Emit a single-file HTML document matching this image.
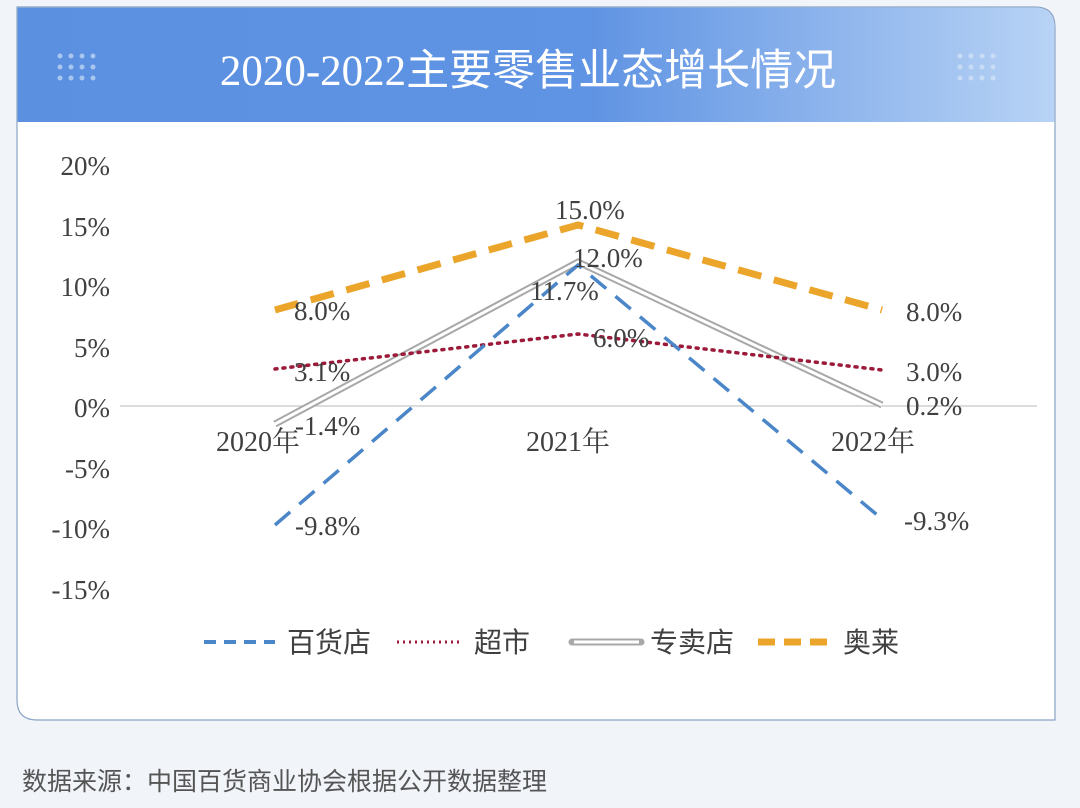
<!DOCTYPE html>
<html><head><meta charset="utf-8"><style>
body{margin:0;width:1080px;height:803px;background:#f1f5fa;overflow:hidden;font-family:"Liberation Sans","Noto Sans CJK SC",sans-serif}
</style></head><body>
<svg width="1080" height="803" xmlns="http://www.w3.org/2000/svg">
<defs>
<linearGradient id="g" x1="0" x2="1" y1="0" y2="0">
<stop offset="0" stop-color="#5b8fe0"/><stop offset="0.55" stop-color="#5f93e3"/><stop offset="1" stop-color="#b8d3f5"/></linearGradient>
</defs>
<path d="M17,7 H1035 Q1055,7 1055,27 V720 H37 Q17,720 17,700 Z" fill="#fff" stroke="#8aa3c4" stroke-width="1.2"/>
<path d="M17.6,7.6 H1035 Q1054.4,7.6 1054.4,27 V122 H17.6 Z" fill="url(#g)"/>
<g fill="#a9c6f0">
<circle cx="60" cy="56" r="2.5"/><circle cx="71" cy="56" r="2.5"/><circle cx="82" cy="56" r="2.5"/><circle cx="93" cy="56" r="2.5"/>
<circle cx="60" cy="67" r="2.5"/><circle cx="71" cy="67" r="2.5"/><circle cx="82" cy="67" r="2.5"/><circle cx="93" cy="67" r="2.5"/>
<circle cx="60" cy="78" r="2.5"/><circle cx="71" cy="78" r="2.5"/><circle cx="82" cy="78" r="2.5"/><circle cx="93" cy="78" r="2.5"/>
</g>
<g fill="#d6e5f9" opacity="0.7">
<circle cx="960" cy="56" r="2.5"/><circle cx="971" cy="56" r="2.5"/><circle cx="982" cy="56" r="2.5"/><circle cx="993" cy="56" r="2.5"/>
<circle cx="960" cy="67" r="2.5"/><circle cx="971" cy="67" r="2.5"/><circle cx="982" cy="67" r="2.5"/><circle cx="993" cy="67" r="2.5"/>
<circle cx="960" cy="78" r="2.5"/><circle cx="971" cy="78" r="2.5"/><circle cx="982" cy="78" r="2.5"/><circle cx="993" cy="78" r="2.5"/>
</g>
<text x="528" y="85" text-anchor="middle" fill="#fff" font-size="43" font-family="Liberation Serif,Noto Sans CJK SC,sans-serif">2020-2022<tspan font-family="Noto Sans CJK SC,sans-serif">主要零售业态增长情况</tspan></text>
<g font-family="Liberation Serif,Noto Serif CJK SC,serif" font-size="27" fill="#404040">
<text x="110" y="175" text-anchor="end">20%</text>
<text x="110" y="236" text-anchor="end">15%</text>
<text x="110" y="296" text-anchor="end">10%</text>
<text x="110" y="357" text-anchor="end">5%</text>
<text x="110" y="417" text-anchor="end">0%</text>
<text x="110" y="478" text-anchor="end">-5%</text>
<text x="110" y="538" text-anchor="end">-10%</text>
<text x="110" y="599" text-anchor="end">-15%</text>
</g>
<line x1="120" y1="406" x2="1037" y2="406" stroke="#c8c8c8" stroke-width="1.2"/>
<g font-family="Liberation Serif,Noto Serif CJK SC,serif" font-size="28" fill="#404040">
<text x="258" y="451" text-anchor="middle">2020年</text>
<text x="568" y="451" text-anchor="middle">2021年</text>
<text x="873" y="451" text-anchor="middle">2022年</text>
</g>
<polyline points="275,310 578,225 882,310" fill="none" stroke="#eba52a" stroke-width="7" stroke-dasharray="24,13"/>
<polyline points="275,424 578,262 882,405" fill="none" stroke="#a8a8a8" stroke-width="7"/>
<polyline points="275,424 578,262 882,405" fill="none" stroke="#fff" stroke-width="3"/>
<polyline points="275,369 578,334 882,370" fill="none" stroke="#9b1a3a" stroke-width="3.5" stroke-dasharray="2,6" stroke-linecap="round"/>
<polyline points="275,525 578,265 882,519" fill="none" stroke="#4a86c8" stroke-width="3.5" stroke-dasharray="20,12"/>
<g font-family="Liberation Serif,serif" font-size="27" fill="#404040">
<text x="294" y="320">8.0%</text>
<text x="294" y="381">3.1%</text>
<text x="295" y="435">-1.4%</text>
<text x="295" y="535">-9.8%</text>
<text x="555" y="219">15.0%</text>
<text x="573" y="267">12.0%</text>
<text x="530" y="300">11.7%</text>
<text x="593" y="347">6.0%</text>
<text x="906" y="321">8.0%</text>
<text x="906" y="381">3.0%</text>
<text x="906" y="415">0.2%</text>
<text x="904" y="530">-9.3%</text>
</g>
<line x1="204" y1="642" x2="275" y2="642" stroke="#4a86c8" stroke-width="4" stroke-dasharray="12,8"/>
<text x="287" y="652" font-size="28" fill="#404040" font-family="Noto Sans CJK SC,sans-serif">百货店</text>
<line x1="397" y1="642" x2="463" y2="642" stroke="#9b1a3a" stroke-width="3" stroke-dasharray="2,4"/>
<text x="474" y="652" font-size="28" fill="#404040" font-family="Noto Sans CJK SC,sans-serif">超市</text>
<line x1="572" y1="642" x2="641" y2="642" stroke="#a8a8a8" stroke-width="7" stroke-linecap="round"/>
<line x1="574" y1="642" x2="639" y2="642" stroke="#fff" stroke-width="3"/>
<text x="650" y="652" font-size="28" fill="#404040" font-family="Noto Sans CJK SC,sans-serif">专卖店</text>
<line x1="758" y1="642" x2="833" y2="642" stroke="#eba52a" stroke-width="7" stroke-dasharray="17,9"/>
<text x="843" y="652" font-size="28" fill="#404040" font-family="Noto Sans CJK SC,sans-serif">奥莱</text>
<text x="22" y="790" font-size="25" fill="#555" font-family="Noto Sans CJK SC,sans-serif">数据来源：中国百货商业协会根据公开数据整理</text>
</svg>
</body></html>
